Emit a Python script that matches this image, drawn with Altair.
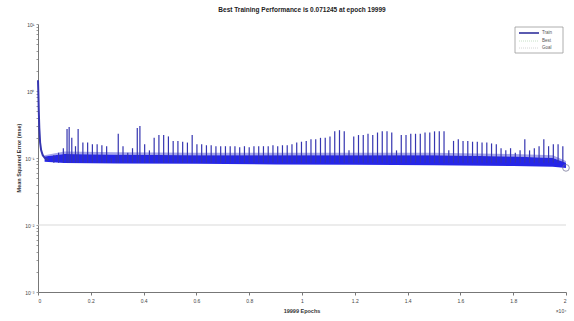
import altair as alt
import pandas as pd

# ---------------- text ----------------
title_text = "Best Training Performance is 0.071245 at epoch 19999"
x_title = "19999 Epochs"
y_title = "Mean Squared Error  (mse)"
legend_labels = ["Train", "Best", "Goal"]

# ---------------- data ----------------
# initial fast decay of the training error
decay_epoch = [0, 15, 30, 50, 80, 120, 180, 260, 400]
decay_mse = [1.45, 0.9, 0.5, 0.28, 0.17, 0.13, 0.11, 0.1, 0.092]

# dense oscillation band that the training curve fills
band_epoch = [250, 1000, 3000, 6000, 9000, 12000, 15000, 18000, 19500, 19999]
band_low = [0.088, 0.084, 0.083, 0.082, 0.080, 0.079, 0.078, 0.076, 0.074, 0.0712]
band_high = [0.105, 0.115, 0.112, 0.110, 0.110, 0.110, 0.110, 0.105, 0.100, 0.085]
band_haze = [0.11, 0.125, 0.122, 0.12, 0.12, 0.12, 0.12, 0.115, 0.11, 0.09]

# periodic spikes of the training error
spike_epoch = [
    600, 780, 960, 1100, 1180, 1280, 1420, 1520, 1700, 1880,
    2060, 2240, 2420, 2600, 2780, 2960, 3040, 3220, 3400, 3580,
    3760, 3860, 4040, 4220, 4400, 4580, 4760, 4940, 5120, 5300,
    5480, 5660, 5840, 6020, 6200, 6380, 6560, 6740, 6920, 7100,
    7280, 7460, 7640, 7820, 8000, 8180, 8360, 8540, 8720, 8900,
    9080, 9260, 9440, 9620, 9800, 9980, 10160, 10340, 10520, 10700,
    10880, 11060, 11240, 11420, 11600, 11780, 11960, 12140, 12320, 12500,
    12680, 12860, 13040, 13220, 13400, 13580, 13760, 13940, 14120, 14300,
    14480, 14660, 14840, 15020, 15200, 15380, 15560, 15740, 15920, 16100,
    16280, 16460, 16640, 16820, 17000, 17180, 17360, 17540, 17720, 17900,
    18080, 18260, 18440, 18620, 18800, 18980, 19160, 19340, 19520, 19700,
    19880,
]
spike_peak = [
    0.11, 0.12, 0.14, 0.27, 0.29, 0.20, 0.15, 0.27, 0.17, 0.17,
    0.16, 0.16, 0.155, 0.15, 0.10, 0.11, 0.23, 0.15, 0.12, 0.14,
    0.28, 0.30, 0.16, 0.13, 0.20, 0.22, 0.22, 0.21, 0.18, 0.18,
    0.175, 0.17, 0.22, 0.16, 0.16, 0.155, 0.155, 0.15, 0.15, 0.15,
    0.15, 0.15, 0.145, 0.15, 0.145, 0.15, 0.15, 0.15, 0.15, 0.155,
    0.15, 0.155, 0.155, 0.16, 0.17, 0.175, 0.18, 0.19, 0.19, 0.20,
    0.20, 0.21, 0.25, 0.26, 0.25, 0.13, 0.21, 0.22, 0.22, 0.23,
    0.22, 0.24, 0.25, 0.25, 0.24, 0.13, 0.22, 0.22, 0.23, 0.23,
    0.23, 0.24, 0.24, 0.25, 0.25, 0.25, 0.13, 0.18, 0.19, 0.18,
    0.18, 0.175, 0.175, 0.17, 0.17, 0.165, 0.16, 0.14, 0.13, 0.14,
    0.12, 0.13, 0.19, 0.13, 0.14, 0.15, 0.19, 0.15, 0.16, 0.16,
    0.15,
]
spike_floor = 0.085

best_epoch = [19999]
best_mse = [0.071245]
goal_mse = 0.01

x_ticks = [0, 2000, 4000, 6000, 8000, 10000, 12000, 14000, 16000, 18000, 20000]
y_ticks = [
    0.001, 0.002, 0.003, 0.004, 0.005, 0.006, 0.007, 0.008, 0.009,
    0.01, 0.02, 0.03, 0.04, 0.05, 0.06, 0.07, 0.08, 0.09,
    0.1, 0.2, 0.3, 0.4, 0.5, 0.6, 0.7, 0.8, 0.9,
    1, 2, 3, 4, 5, 6, 7, 8, 9, 10,
]

# ---------------- chart ----------------
W, H = 528, 268
FONT = "Liberation Sans"
BLUE = "#1a1ae6"
SPIKE = "#3535b0"

x_scale = alt.Scale(domain=[0, 20000], nice=False, zero=False)
y_scale = alt.Scale(type="log", domain=[0.001, 10], nice=False)

y_label_expr = (
    "datum.value == 10 ? '10¹' : datum.value == 1 ? '10⁰' : "
    "datum.value == 0.1 ? '10⁻¹' : datum.value == 0.01 ? '10⁻²' : "
    "datum.value == 0.001 ? '10⁻³' : ''"
)

x_axis = alt.Axis(values=x_ticks, labelExpr="'' + (datum.value / 10000)",
                  title=None, grid=False, tickSize=3, labelFontSize=5,
                  labelPadding=3, domainColor="#777", tickColor="#777",
                  labelColor="#444", labelFont=FONT)
y_axis = alt.Axis(values=y_ticks, labelExpr=y_label_expr, title=None,
                  grid=False, tickSize=2, labelFontSize=5, labelPadding=2,
                  domainColor="#777", tickColor="#999", labelColor="#444",
                  labelFont=FONT)


def X(field):
    return alt.X(field, scale=x_scale, axis=x_axis)


def Y(field):
    return alt.Y(field, scale=y_scale, axis=y_axis)


band_df = pd.DataFrame({"epoch": band_epoch, "low": band_low,
                        "high": band_high, "haze": band_haze})
decay_df = pd.DataFrame({"epoch": decay_epoch, "mse": decay_mse})
spike_df = pd.DataFrame({"epoch": spike_epoch, "peak": spike_peak})
best_df = pd.DataFrame({"epoch": best_epoch, "mse": best_mse})
goal_df = pd.DataFrame({"epoch": [0, 20000], "mse": [goal_mse, goal_mse]})

goal = alt.Chart(goal_df).mark_line(color="#d9d9d9", strokeWidth=1).encode(
    x=X("epoch:Q"), y=Y("mse:Q")
)

haze = alt.Chart(band_df).mark_area(color="#3a3ad0", opacity=0.45).encode(
    x=X("epoch:Q"), y=Y("high:Q"), y2="haze:Q"
)

band = alt.Chart(band_df).mark_area(color=BLUE, opacity=0.95).encode(
    x=X("epoch:Q"), y=Y("low:Q"), y2="high:Q"
)

spikes = alt.Chart(spike_df).mark_rule(color=SPIKE, strokeWidth=1.2).encode(
    x=X("epoch:Q"), y=Y("peak:Q"), y2=alt.datum(spike_floor)
)

decay = alt.Chart(decay_df).mark_line(color=SPIKE, strokeWidth=2).encode(
    x=X("epoch:Q"), y=Y("mse:Q")
)

best = alt.Chart(best_df).mark_point(
    shape="circle", filled=False, color="#6a6a90", size=45, strokeWidth=1
).encode(x=X("epoch:Q"), y=Y("mse:Q"))


def txt(text, x, y, size=5, weight="normal", angle=0, align="center", color="#333"):
    return alt.Chart(pd.DataFrame({"t": [text]})).mark_text(
        fontSize=size, fontWeight=weight, angle=angle, align=align,
        baseline="middle", font=FONT, color=color
    ).encode(text="t:N", x=alt.value(x), y=alt.value(y))


title = txt(title_text, W / 2, -14, size=6.5, weight="bold", color="#222")
xlab = txt(x_title, W / 2, 287, size=5.5, weight="bold", color="#333")
ylab = txt(y_title, -19, H / 2, size=5.5, weight="bold", angle=270, color="#333")
xexp = txt("×10⁴", 523, 287, size=5, color="#444")

# legend box (decoration)
one = pd.DataFrame({"a": [0]})
leg_box = alt.Chart(one).mark_rect(
    fill="white", stroke="#999", strokeWidth=0.8
).encode(x=alt.value(477), x2=alt.value(525), y=alt.value(3), y2=alt.value(29))
leg_train = alt.Chart(one).mark_rule(color="#5a5ab0", strokeWidth=2).encode(
    x=alt.value(481), x2=alt.value(501), y=alt.value(9))
leg_best = alt.Chart(one).mark_rule(
    color="#b8d8b8", strokeWidth=0.8, strokeDash=[1, 1]
).encode(x=alt.value(481), x2=alt.value(501), y=alt.value(17))
leg_goal = alt.Chart(one).mark_rule(
    color="#cccccc", strokeWidth=0.8, strokeDash=[1, 1]
).encode(x=alt.value(481), x2=alt.value(501), y=alt.value(24))
leg_t1 = txt(legend_labels[0], 504, 9, size=4.5, align="left", color="#555")
leg_t2 = txt(legend_labels[1], 504, 17, size=4.5, align="left", color="#555")
leg_t3 = txt(legend_labels[2], 504, 24, size=4.5, align="left", color="#555")

chart = alt.layer(
    goal, haze, band, spikes, decay, best,
    title, xlab, ylab, xexp,
    leg_box, leg_train, leg_best, leg_goal, leg_t1, leg_t2, leg_t3,
).properties(
    width=W, height=H,
    autosize=alt.AutoSizeParams(type="none"),
    padding={"left": 38, "top": 24, "right": 8, "bottom": 29},
    background="white",
).configure_view(stroke=None)

chart.save("out.html", embed_options={"renderer": "svg", "actions": False})
